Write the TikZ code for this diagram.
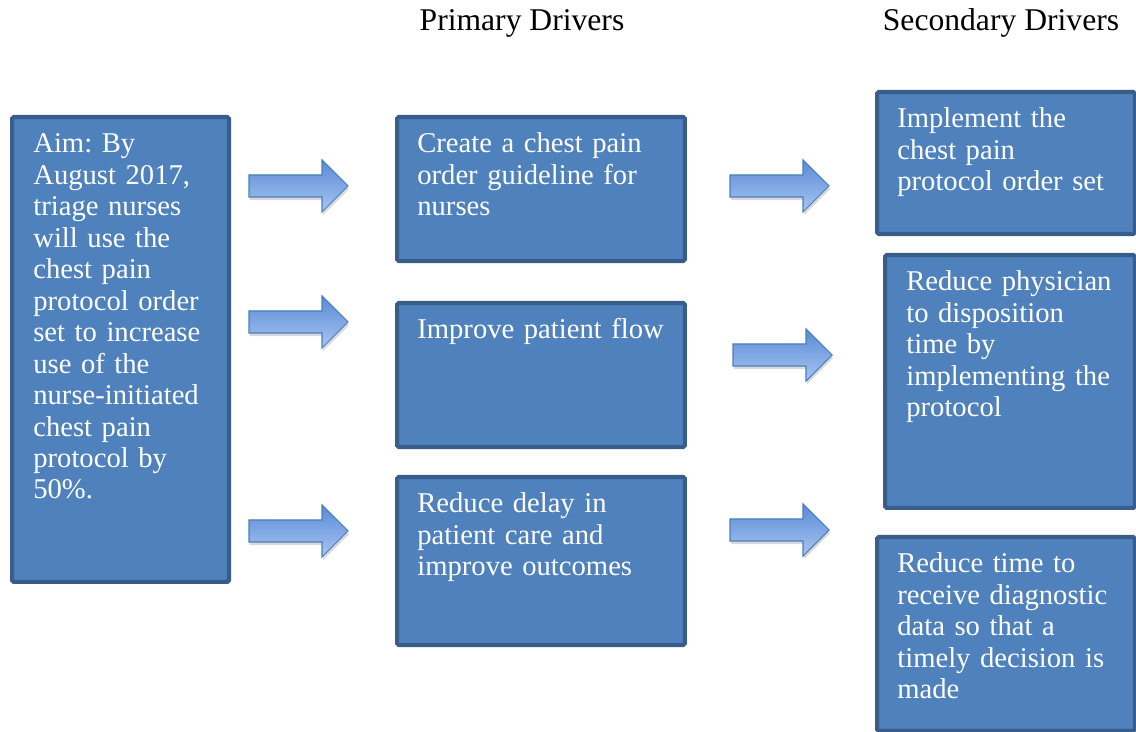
\documentclass[tikz,border=0pt]{standalone}
\usepackage{fontspec}
\setmainfont{Liberation Serif}
\usetikzlibrary{shadows}
\definecolor{boxfill}{HTML}{4F81BD}
\definecolor{boxline}{HTML}{385D8A}
\definecolor{arrowtop}{HTML}{5A8AD6}
\definecolor{arrowbot}{HTML}{A7C6F2}
\definecolor{arrowline}{HTML}{4A7EBB}
\frenchspacing
\begin{document}
\begin{tikzpicture}[
    x=0.02cm, y=-0.02cm,
    drvbox/.style={rectangle, draw=boxline, fill=boxfill, line width=2.3pt, rounded corners=1pt, anchor=north west, inner sep=0pt},
    drvtext/.style={anchor=base west, inner sep=0pt, text=white, text width=5.5cm, align=left, font=\fontsize{16.3}{17.9}\selectfont},
    headtext/.style={anchor=base, inner sep=0pt, font=\fontsize{18}{20}\selectfont},
    blockarrow/.style={draw=arrowline, line width=0.6pt, top color=arrowtop, bottom color=arrowbot,
        drop shadow={shadow xshift=0.6pt, shadow yshift=-1.8pt, opacity=0.3}}
]
\useasboundingbox (0,0) rectangle (1136,732);

\node[headtext](hp) at (522,31) {Primary Drivers};
\node[headtext](hs) at (1001,31) {Secondary Drivers};

\node[drvbox, minimum width=4.34cm, minimum height=9.30cm](aim) at (10,115) {};
\node[drvbox, minimum width=5.76cm, minimum height=2.88cm](p1) at (395,115) {};
\node[drvbox, minimum width=5.76cm, minimum height=2.88cm](p2) at (395,301) {};
\node[drvbox, minimum width=5.76cm, minimum height=3.36cm](p3) at (395,475) {};
\node[drvbox, minimum width=5.16cm, minimum height=2.84cm](s1) at (875,90) {};
\node[drvbox, minimum width=5.00cm, minimum height=5.06cm](s2) at (883,253) {};
\node[drvbox, minimum width=5.16cm, minimum height=3.88cm](s3) at (875,535) {};

\node[drvtext](aimt) at (33,153) {Aim: By\\ August 2017,\\ triage nurses\\ will use the\\ chest pain\\ protocol order\\ set to increase\\ use of the\\ nurse-initiated\\ chest pain\\ protocol by\\ 50\%.};
\node[drvtext](p1t) at (417,153) {Create a chest pain\\ order guideline for\\ nurses};
\node[drvtext](p2t) at (417,339) {Improve patient flow};
\node[drvtext](p3t) at (417,513) {Reduce delay in\\ patient care and\\ improve outcomes};
\node[drvtext](s1t) at (897,128) {Implement the\\ chest pain\\ protocol order set};
\node[drvtext](s2t) at (906,291) {Reduce physician\\ to disposition\\ time by\\ implementing the\\ protocol};
\node[drvtext](s3t) at (897,573) {Reduce time to\\ receive diagnostic\\ data so that a\\ timely decision is\\ made};

% block arrows between the columns
\draw[blockarrow, shift={(249,186)}] (0,-11) -- (73,-11) -- (73,-26) -- (99,0) -- (73,26) -- (73,11) -- (0,11) -- cycle;
\draw[blockarrow, shift={(249,322)}] (0,-11) -- (73,-11) -- (73,-26) -- (99,0) -- (73,26) -- (73,11) -- (0,11) -- cycle;
\draw[blockarrow, shift={(249,531)}] (0,-11) -- (73,-11) -- (73,-26) -- (99,0) -- (73,26) -- (73,11) -- (0,11) -- cycle;
\draw[blockarrow, shift={(730,186)}] (0,-11) -- (73,-11) -- (73,-26) -- (99,0) -- (73,26) -- (73,11) -- (0,11) -- cycle;
\draw[blockarrow, shift={(733,355)}] (0,-11) -- (73,-11) -- (73,-26) -- (99,0) -- (73,26) -- (73,11) -- (0,11) -- cycle;
\draw[blockarrow, shift={(730,530)}] (0,-11) -- (73,-11) -- (73,-26) -- (99,0) -- (73,26) -- (73,11) -- (0,11) -- cycle;
\end{tikzpicture}
\end{document}
